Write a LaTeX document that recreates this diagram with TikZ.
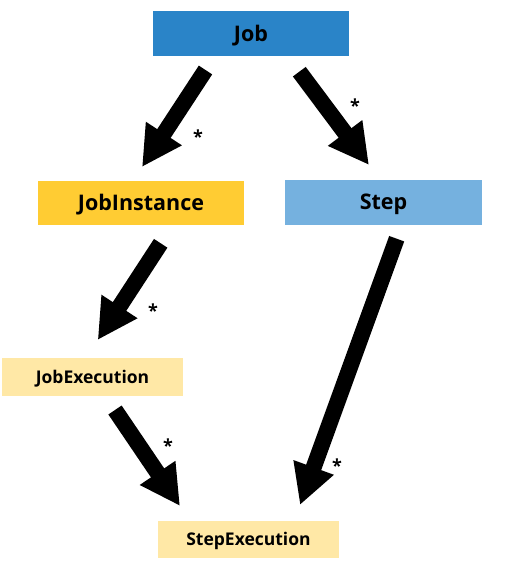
\documentclass[tikz,border=0pt]{standalone}
\usepackage{fontspec}
\setmainfont{Open Sans}
\usetikzlibrary{arrows.meta}
\definecolor{jobblue}{HTML}{2A84C8}
\definecolor{instgold}{HTML}{FFCC33}
\definecolor{stepblue}{HTML}{75B1DF}
\definecolor{paleyel}{HTML}{FFE8A6}
\begin{document}
\begin{tikzpicture}[x=1pt,y=-1pt,
  box/.style={inner sep=0pt, anchor=center, text depth=1pt, font=\fontsize{21.5}{24}\selectfont\bfseries},
  smallbox/.style={box, font=\fontsize{17.5}{20}\selectfont\bfseries},
  bigarrow/.style={line width=16pt, -{Triangle[length=40pt,width=40pt]}},
  star/.style={font=\fontsize{18}{20}\selectfont\bfseries, inner sep=0pt}]
\useasboundingbox (0,0) rectangle (507,568);
\node[box, fill=jobblue, minimum width=196pt, minimum height=45pt] (job) at (251,33.5) {Job};
\node[box, fill=instgold, minimum width=206pt, minimum height=44pt] (ji) at (141,202.5) {JobInstance};
\node[box, fill=stepblue, minimum width=197pt, minimum height=45pt] (step) at (383.5,202.5) {Step};
\node[smallbox, fill=paleyel, minimum width=181pt, minimum height=38pt] (je) at (92.5,377) {JobExecution};
\node[smallbox, fill=paleyel, minimum width=181pt, minimum height=37pt] (se) at (248.5,539.5) {StepExecution};
\coordinate (a1s) at (205.5,70);  \coordinate (a1e) at (142,167);
\coordinate (a2s) at (299.3,71.7); \coordinate (a2e) at (369,165);
\coordinate (a3s) at (160.7,243.3); \coordinate (a3e) at (97.7,340);
\coordinate (a4s) at (115,410); \coordinate (a4e) at (180,506);
\coordinate (a5s) at (396.7,238.7); \coordinate (a5e) at (300,505);
\draw[bigarrow] (a1s) -- (a1e);
\draw[bigarrow] (a2s) -- (a2e);
\draw[bigarrow] (a3s) -- (a3e);
\draw[bigarrow] (a4s) -- (a4e);
\draw[bigarrow] (a5s) -- (a5e);
\node[star] (s1) at (198,137) {*};
\node[star] (s2) at (355,106) {*};
\node[star] (s3) at (153,311) {*};
\node[star] (s4) at (168,446) {*};
\node[star] (s5) at (337,466) {*};
\end{tikzpicture}
\end{document}
